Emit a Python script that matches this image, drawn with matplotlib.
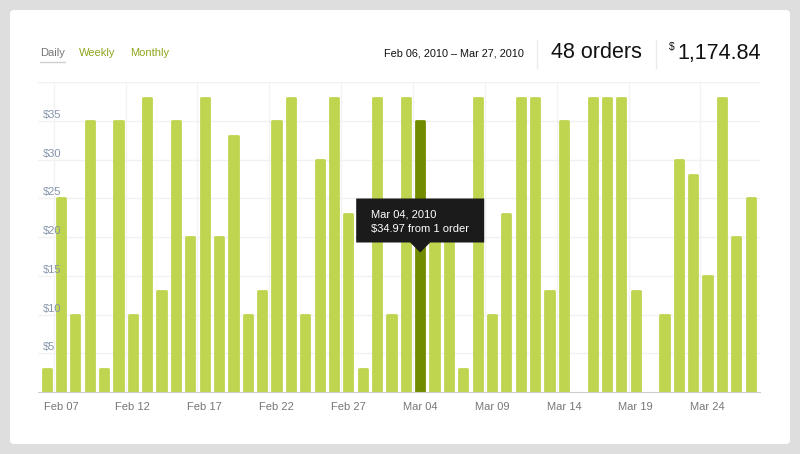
import matplotlib
matplotlib.use('Agg')
from matplotlib import pyplot as plt
from matplotlib.patches import FancyBboxPatch, Polygon
from matplotlib.lines import Line2D
from matplotlib.transforms import IdentityTransform, Affine2D
import numpy as np
import pandas as pd

plt.rcParams['font.family'] = ['Liberation Sans', 'DejaVu Sans']

# daily revenue, Feb 06 2010 .. Mar 27 2010
days = pd.date_range('2010-02-06', '2010-03-27', freq='D')
revenue = [3, 25, 10, 35, 3, 35, 10, 38, 13, 35, 20, 38, 20, 33, 10, 13, 35,
           38, 10, 30, 38, 23, 3, 38, 10, 38, 34.97, 23, 23, 3, 38, 10, 23, 38,
           38, 13, 35, 0, 38, 38, 38, 13, 0, 10, 30, 28, 15, 38, 20, 25]
highlight_day = 'Mar 04'
tick_days = ['Feb 07', 'Feb 12', 'Feb 17', 'Feb 22', 'Feb 27',
             'Mar 04', 'Mar 09', 'Mar 14', 'Mar 19', 'Mar 24']
y_ticks = [5, 10, 15, 20, 25, 30, 35]
tooltip_lines = ['Mar 04, 2010', '$34.97 from 1 order']
period_text = 'Feb 06, 2010 \u2013 Mar 27, 2010'
orders_text = '48 orders'
total_text = '1,174.84'

labels = [d.strftime('%b %d') for d in days]
x = np.arange(len(days))
light = '#bfd44f'
dark = '#728c00'
colors = [dark if l == highlight_day else light for l in labels]
edge_w = [2 if v > 0 else 0 for v in revenue]

W, H = 800, 454
fig = plt.figure(figsize=(W / 100, H / 100), dpi=100)
fig.patch.set_facecolor('#dedede')

panel = FancyBboxPatch((10, 10), 780, 434, boxstyle='round,pad=0,rounding_size=4',
                       transform=IdentityTransform(), facecolor='white',
                       edgecolor='none', zorder=0)
fig.add_artist(panel)

ax = fig.add_axes([38 / W, (H - 392) / H, (760 - 38) / W, (392 - 82) / H])
ax.set_facecolor('none')
ax.bar(x, revenue, width=0.57, color=colors, edgecolor=colors, linewidth=edge_w,
       joinstyle='round', zorder=3)
ax.set_xlim(-0.6, 49.65)
ax.set_ylim(0, 40)

tick_pos = [labels.index(t) for t in tick_days]
ax.set_xticks(tick_pos)
ax.set_xticklabels(tick_days, fontsize=8, color='#777777')
ax.set_xticks([p - 0.5 for p in tick_pos], minor=True)
ax.tick_params(axis='x', which='both', length=0, pad=7)
ax.grid(True, which='minor', axis='x', color='#f3f3f3', linewidth=1, zorder=0)
ax.set_yticks(y_ticks + [40])
ax.set_yticklabels([])
ax.tick_params(axis='y', length=0)
ax.grid(True, which='major', axis='y', color='#f1f1f1', linewidth=1, zorder=0)
for s in ['top', 'right', 'left']:
    ax.spines[s].set_visible(False)
ax.spines['bottom'].set_color('#cccccc')
ax.spines['bottom'].set_zorder(4)

ytrans = ax.get_yaxis_transform()
for v in y_ticks:
    ax.text(0.007, v + 0.1, '$%d' % v, transform=ytrans, fontsize=8,
            color='#8494aa', ha='left', va='bottom', zorder=5)

# tooltip above highlighted bar
hi = labels.index(highlight_day)
tx, ty = ax.transData.transform((hi, 18))
tip = Affine2D().translate(tx, ty)
shape = [(0, 0), (-10, 10), (-64, 10), (-64, 54), (64, 54), (64, 10), (10, 10)]
ax.add_patch(Polygon(shape, closed=True, transform=tip, facecolor='#1b1b1b',
                     edgecolor='none', zorder=6, clip_on=False))
ax.text(-49, 38, tooltip_lines[0], transform=tip, color='white', fontsize=8,
        ha='left', va='center', zorder=7)
ax.text(-49, 24, tooltip_lines[1], transform=tip, color='white', fontsize=8,
        ha='left', va='center', zorder=7)

# header
def fy(py):
    return (H - py) / H

fig.text(40 / W, fy(53), 'Daily', fontsize=8, color='#777777', ha='left', va='center')
fig.add_artist(Line2D([40, 65], [H - 62, H - 62], transform=IdentityTransform(),
                      color='#d0d0d0', linewidth=1))
fig.text(79 / W, fy(53), 'Weekly', fontsize=8, color='#8fa51c', ha='left', va='center')
fig.text(130 / W, fy(53), 'Monthly', fontsize=8, color='#8fa51c', ha='left', va='center')
fig.text(384 / W, fy(53), period_text, fontsize=7.8, color='#111111', ha='left', va='center')
for sx in [537, 656]:
    fig.add_artist(Line2D([sx, sx], [H - 40, H - 68], transform=IdentityTransform(),
                          color='#ebebeb', linewidth=1))
fig.text(551 / W, fy(53), orders_text, fontsize=15.5, color='#111111', ha='left', va='center')
fig.text(669 / W, fy(47), '$', fontsize=7.5, color='#111111', ha='left', va='center')
fig.text(677 / W, fy(53), total_text, fontsize=15.5, color='#111111', ha='left', va='center')

fig.savefig('out.png', dpi=100, facecolor=fig.get_facecolor())
